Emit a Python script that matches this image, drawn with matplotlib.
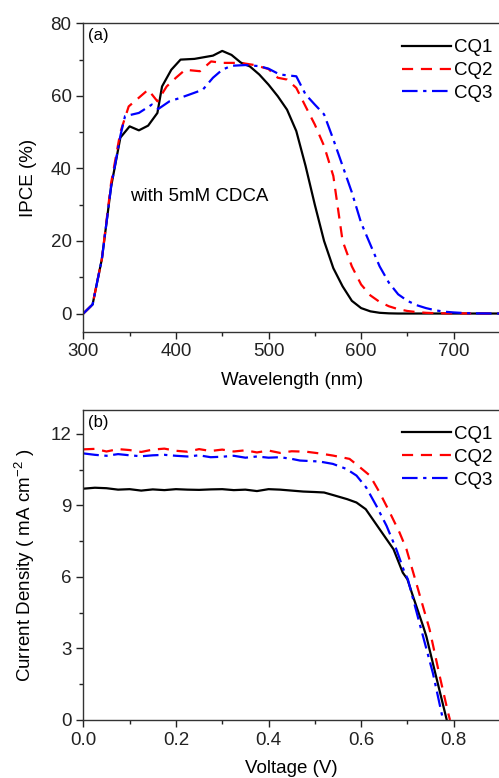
import numpy as np
import matplotlib
matplotlib.use("Agg")
import matplotlib.pyplot as plt
from matplotlib.ticker import MultipleLocator

plt.rcParams['font.family'] = ['Liberation Sans', 'DejaVu Sans']
plt.rcParams['mathtext.default'] = 'regular'

# (a) IPCE spectra
wl_cq1 = [300, 310, 320, 330, 340, 350, 360, 370, 380, 385, 395, 405, 420, 440, 450, 460, 470, 480, 490, 500,
          510, 520, 530, 540, 550, 560, 570, 580, 590, 600, 610, 620, 630, 640, 750]
ipce_cq1 = [0, 2.5, 15, 35, 48.5, 51.6, 50.5, 51.8, 55.3, 62.6, 67.2, 70, 70.2, 71.1, 72.4, 71.3, 69.2, 68.1, 65.9, 63.1,
            59.9, 56.2, 50.3, 40.7, 30, 20, 12.5, 7.5, 3.5, 1.5, 0.6, 0.2, 0.05, 0, 0]

wl_cq2 = [300, 310, 320, 330, 340, 349, 360, 370, 380, 390, 400, 410, 426, 438, 450, 470, 485, 500, 510, 520,
          530, 540, 550, 560, 570, 580, 590, 600, 610, 620, 630, 640, 650, 660, 670, 680, 690, 750]
ipce_cq2 = [0, 2.5, 15, 36, 50, 57.1, 59.5, 61.7, 58.5, 62.6, 65, 67.2, 66.8, 69.5, 69.1, 69.1, 68.5, 67.4, 65, 64.5,
            62.2, 57.1, 52.1, 46.2, 37.9, 20, 13, 8, 5, 3.2, 2, 1.2, 0.7, 0.4, 0.2, 0.1, 0.05, 0]

wl_cq3 = [300, 310, 320, 330, 340, 345, 360, 374, 381, 393, 404, 415, 429, 440, 450, 460, 475, 490, 500, 512,
          530, 540, 550, 560, 570, 580, 590, 600, 610, 620, 630, 640, 650, 660, 670, 680, 690, 700, 710, 720, 750]
ipce_cq3 = [0, 2.5, 15, 35, 49, 54.4, 55.3, 57.6, 56.4, 58.5, 59.4, 60.4, 61.7, 65, 67.2, 68.3, 68.5, 68.2, 67.5, 65.9,
            65.4, 60.4, 57.6, 54.9, 48, 40.7, 33.4, 25, 19, 13, 8.5, 5.3, 3.5, 2.3, 1.5, 0.9, 0.5, 0.3, 0.15, 0.05, 0]

# (b) J-V curves
v_cq1 = [0.0, 0.025, 0.05, 0.075, 0.1, 0.125, 0.15, 0.175, 0.2, 0.225, 0.25, 0.275, 0.3, 0.325, 0.35, 0.375,
         0.4, 0.425, 0.45, 0.475, 0.5, 0.52, 0.54, 0.57, 0.59, 0.61, 0.625, 0.645, 0.67, 0.69, 0.70, 0.712,
         0.734, 0.741, 0.762, 0.785]
j_cq1 = [9.70, 9.74, 9.72, 9.66, 9.68, 9.62, 9.67, 9.64, 9.68, 9.66, 9.65, 9.67, 9.68, 9.64, 9.66, 9.60,
         9.68, 9.66, 9.62, 9.58, 9.56, 9.54, 9.43, 9.26, 9.12, 8.84, 8.42, 7.86, 7.16, 6.18, 5.9, 5.19,
         3.93, 3.5, 1.82, 0.0]

v_cq2 = [0.0, 0.025, 0.05, 0.075, 0.1, 0.125, 0.15, 0.175, 0.2, 0.225, 0.25, 0.275, 0.3, 0.325, 0.35, 0.375,
         0.4, 0.425, 0.45, 0.482, 0.51, 0.539, 0.575, 0.593, 0.619, 0.64, 0.662, 0.683, 0.698, 0.719,
         0.748, 0.77, 0.788, 0.792]
j_cq2 = [11.35, 11.37, 11.26, 11.36, 11.32, 11.24, 11.34, 11.38, 11.29, 11.25, 11.36, 11.28, 11.34, 11.26, 11.31, 11.22,
         11.30, 11.20, 11.27, 11.25, 11.18, 11.09, 10.95, 10.67, 10.25, 9.54, 8.7, 7.86, 7.16, 5.75,
         3.79, 1.82, 0.29, 0.0]

v_cq3 = [0.0, 0.025, 0.05, 0.075, 0.1, 0.125, 0.15, 0.175, 0.2, 0.225, 0.25, 0.275, 0.3, 0.325, 0.35, 0.375,
         0.4, 0.425, 0.45, 0.468, 0.51, 0.539, 0.568, 0.59, 0.611, 0.633, 0.655, 0.676, 0.694, 0.701,
         0.726, 0.755, 0.777]
j_cq3 = [11.18, 11.12, 11.08, 11.15, 11.10, 11.06, 11.10, 11.12, 11.08, 11.05, 11.10, 11.02, 11.04, 11.08, 11.00, 11.05,
         11.00, 11.02, 10.95, 10.88, 10.84, 10.74, 10.53, 10.25, 9.75, 8.98, 8.14, 7.16, 6.18, 5.9,
         4.07, 1.97, 0.0]

labels = ['CQ1', 'CQ2', 'CQ3']
colors = ['black', '#ff0000', '#0000ff']
styles = ['-', (0, (5, 3.5)), (0, (7, 2.5, 1.5, 2.5))]

fig = plt.figure(figsize=(4.99, 7.78), dpi=100)
ax1 = fig.add_axes([0.167, 0.5737, 0.835, 0.3963])
ax2 = fig.add_axes([0.167, 0.0746, 0.835, 0.3984])

for wl, ip, lab, c, ls in zip([wl_cq1, wl_cq2, wl_cq3], [ipce_cq1, ipce_cq2, ipce_cq3], labels, colors, styles):
    ax1.plot(wl, ip, color=c, linestyle=ls, lw=1.6, label=lab)
for v, j, lab, c, ls in zip([v_cq1, v_cq2, v_cq3], [j_cq1, j_cq2, j_cq3], labels, colors, styles):
    ax2.plot(v, j, color=c, linestyle=ls, lw=1.6, label=lab)

ax1.set_xlim(300, 750)
ax1.set_ylim(-5, 80)
ax1.xaxis.set_major_locator(MultipleLocator(100))
ax1.xaxis.set_minor_locator(MultipleLocator(50))
ax1.yaxis.set_major_locator(MultipleLocator(20))
ax1.yaxis.set_minor_locator(MultipleLocator(10))
ax1.set_xlabel('Wavelength (nm)', fontsize=13.5, labelpad=8)
ax1.set_ylabel('IPCE (%)', fontsize=13.5, labelpad=10)
ax1.text(0.012, 0.985, '(a)', transform=ax1.transAxes, fontsize=12, va='top', ha='left')
ax1.text(350, 32.3, 'with 5mM CDCA', fontsize=13.5, va='center', ha='left')

ax2.set_xlim(0, 0.9)
ax2.set_ylim(0, 13)
ax2.xaxis.set_major_locator(MultipleLocator(0.2))
ax2.xaxis.set_minor_locator(MultipleLocator(0.1))
ax2.yaxis.set_major_locator(MultipleLocator(3))
ax2.yaxis.set_minor_locator(MultipleLocator(1.5))
ax2.xaxis.set_major_formatter(plt.FormatStrFormatter('%.1f'))
ax2.set_xlabel('Voltage (V)', fontsize=13.5, labelpad=8)
ax2.set_ylabel('Current Density ( mA cm$^{-2}$ )', fontsize=13.5, labelpad=10)
ax2.text(0.012, 0.985, '(b)', transform=ax2.transAxes, fontsize=12, va='top', ha='left')

for ax in (ax1, ax2):
    ax.tick_params(which='both', direction='out', top=False, right=False, labelsize=13.5, colors='#222222')
    ax.tick_params(which='major', length=5, width=1)
    ax.tick_params(which='minor', length=3, width=1)
    for s in ax.spines.values():
        s.set_linewidth(1.0)
        s.set_color('#333333')
    ax.legend(loc='upper right', bbox_to_anchor=(1.01, 0.985), frameon=False, fontsize=13.5,
              handlelength=2.6, handletextpad=0.2, labelspacing=0.3, borderaxespad=0.2)

fig.savefig('out.png', dpi=100)
